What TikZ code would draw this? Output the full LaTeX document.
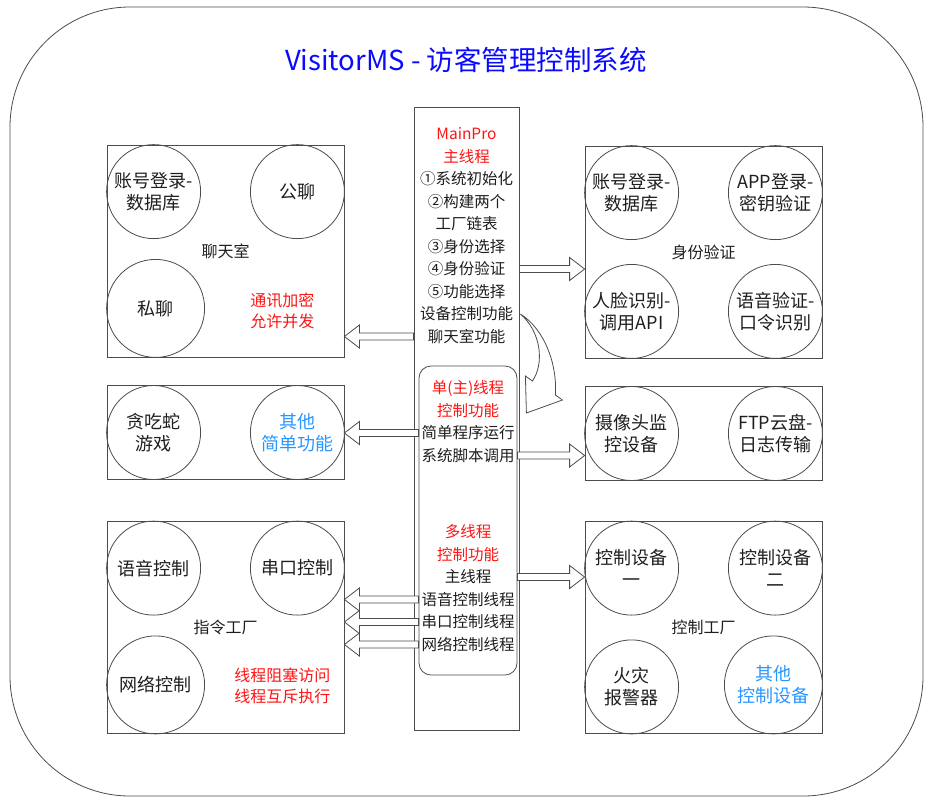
\documentclass[tikz,border=0pt]{standalone}
\usepackage{fontspec}
\setmainfont{Noto Sans CJK SC}
\usetikzlibrary{calc}

\definecolor{ink}{RGB}{30,30,30}
\definecolor{alert}{RGB}{255,20,20}
\definecolor{titleblue}{RGB}{10,10,255}
\definecolor{softblue}{RGB}{40,150,255}

% hollow block arrow between two points on one row
\newcommand{\blockarrow}[2]{%
  \draw [barrow] let \p1 = (#1), \p2 = (#2), \p3 = ($(#2)!15pt!(#1)$) in
    (\x1, \y1+3.5pt) -- (\x3, \y1+3.5pt) -- (\x3, \y1+11.5pt) -- (\x2, \y1)
    -- (\x3, \y1-11.5pt) -- (\x3, \y1-3.5pt) -- (\x1, \y1-3.5pt) -- cycle;
}

\begin{document}
\begin{tikzpicture}[x = 1pt, y = -1pt,
    frame/.style = {draw = black!70, line width = .8pt},
    panel/.style = {frame, minimum width = 237pt, inner sep = 0pt, text = ink,
      font = \fontsize{16}{20}\selectfont},
    ball/.style = {frame, circle, minimum size = 94pt, inner sep = 0pt, align = center,
      text = ink, font = \fontsize{18}{22}\selectfont},
    bigball/.style = {ball, minimum size = 98pt},
    note/.style = {align = center, text = alert, font = \fontsize{16}{21}\selectfont},
    row/.style = {inner sep = 0pt, font = \fontsize{15.5}{18}\selectfont},
    barrow/.style = {frame, fill = white}]

    \useasboundingbox (0,0) rectangle (936,807);
    \draw [frame, rounded corners = 120pt] (10,7) rectangle (923,796);

    \node [text = titleblue, font = \fontsize{27.5}{32}\selectfont] (title) at (466,60) {VisitorMS - 访客管理控制系统};

    % centre column
    \node [frame, minimum width = 105pt, minimum height = 623pt] (main) at (466.5,418.5) {};
    \node [frame, rounded corners = 12pt, minimum width = 98pt, minimum height = 309pt] (inner) at (468,520.5) {};
    \foreach \t/\c [count=\i] in {MainPro/alert, 主线程/alert, ①系统初始化/ink, ②构建两个/ink, 工厂链表/ink,
        ③身份选择/ink, ④身份验证/ink, ⑤功能选择/ink, 设备控制功能/ink, 聊天室功能/ink}
      \node [row, text = \c] (l\i) at (466.5, {134+(\i-1)*22.5}) {\t};
    \foreach \t/\c [count=\i] in {单(主)线程/alert, 控制功能/alert, 简单程序运行/ink, 系统脚本调用/ink}
      \node [row, text = \c] (i\i) at (468, {388+(\i-1)*22.5}) {\t};
    \foreach \t/\c [count=\i] in {多线程/alert, 控制功能/alert, 主线程/ink, 语音控制线程/ink, 串口控制线程/ink, 网络控制线程/ink}
      \node [row, text = \c] (m\i) at (468, {532+(\i-1)*22.5}) {\t};

    % left side
    \node [panel, minimum height = 212pt] (chat) at (225.5,251) {聊天室};
    \node [ball] (c1) at ($(chat.north west)+(47,47)$) {账号登录-\\数据库};
    \node [ball] (c2) at ($(chat.north east)+(-47,47)$) {公聊};
    \node [bigball] (c3) at ($(chat.south west)+(49,-49)$) {私聊};
    \node [note] (n1) at ($(chat.south east)+(-62,-47)$) {通讯加密\\允许并发};

    \node [panel, minimum height = 94pt] (game) at (225.5,432.5) {};
    \node [ball] (g1) at ($(game.west)+(47,0)$) {贪吃蛇\\游戏};
    \node [ball, text = softblue] (g2) at ($(game.east)+(-47,0)$) {其他\\简单功能};

    \node [panel, minimum height = 212pt] (cmd) at (225.5,627.5) {指令工厂};
    \node [ball] (k1) at ($(cmd.north west)+(47,47)$) {语音控制};
    \node [ball] (k2) at ($(cmd.north east)+(-47,47)$) {串口控制};
    \node [bigball] (k3) at ($(cmd.south west)+(49,-49)$) {网络控制};
    \node [note] (n2) at ($(cmd.south east)+(-62,-48)$) {线程阻塞访问\\线程互斥执行};

    % right side
    \node [panel, minimum height = 212pt] (auth) at (703.5,252) {身份验证};
    \node [ball] (a1) at ($(auth.north west)+(47,47)$) {账号登录-\\数据库};
    \node [ball] (a2) at ($(auth.north east)+(-47,47)$) {APP登录-\\密钥验证};
    \node [ball] (a3) at ($(auth.south west)+(47,-47)$) {人脸识别-\\调用API};
    \node [ball] (a4) at ($(auth.south east)+(-47,-47)$) {语音验证-\\口令识别};

    \node [panel, minimum height = 94pt] (dev) at (703.5,433.5) {};
    \node [ball] (d1) at ($(dev.west)+(47,0)$) {摄像头监\\控设备};
    \node [ball] (d2) at ($(dev.east)+(-47,0)$) {FTP云盘-\\日志传输};

    \node [panel, minimum height = 212pt] (ctrl) at (703.5,627.5) {控制工厂};
    \node [ball] (e1) at ($(ctrl.north west)+(47,47)$) {控制设备\\一};
    \node [ball] (e2) at ($(ctrl.north east)+(-47,47)$) {控制设备\\二};
    \node [ball] (e3) at ($(ctrl.south west)+(47,-47)$) {火灾\\报警器};
    \node [bigball, text = softblue] (e4) at ($(ctrl.south east)+(-49,-49)$) {其他\\控制设备};

    % arrows
    \foreach \a/\b/\r in {main.east/auth.west/l7, main.west/chat.east/l10, inner.west/game.east/i3,
        inner.east/dev.west/i4, inner.east/ctrl.west/m3, inner.west/cmd.east/m4,
        inner.west/cmd.east/m5, inner.west/cmd.east/m6} {
      \coordinate (s) at (\a |- \r);
      \coordinate (e) at (\b |- \r);
      \blockarrow{s}{e}
    }
    \draw [barrow, shift = {(main.east |- l9)}] (1,0) .. controls (25,15) and (38,50) .. (36,81)
      -- (43,86) -- (7,99) -- (6,62) -- (13,67) .. controls (25,50) and (22,18) .. (1,0) -- cycle;
\end{tikzpicture}
\end{document}
